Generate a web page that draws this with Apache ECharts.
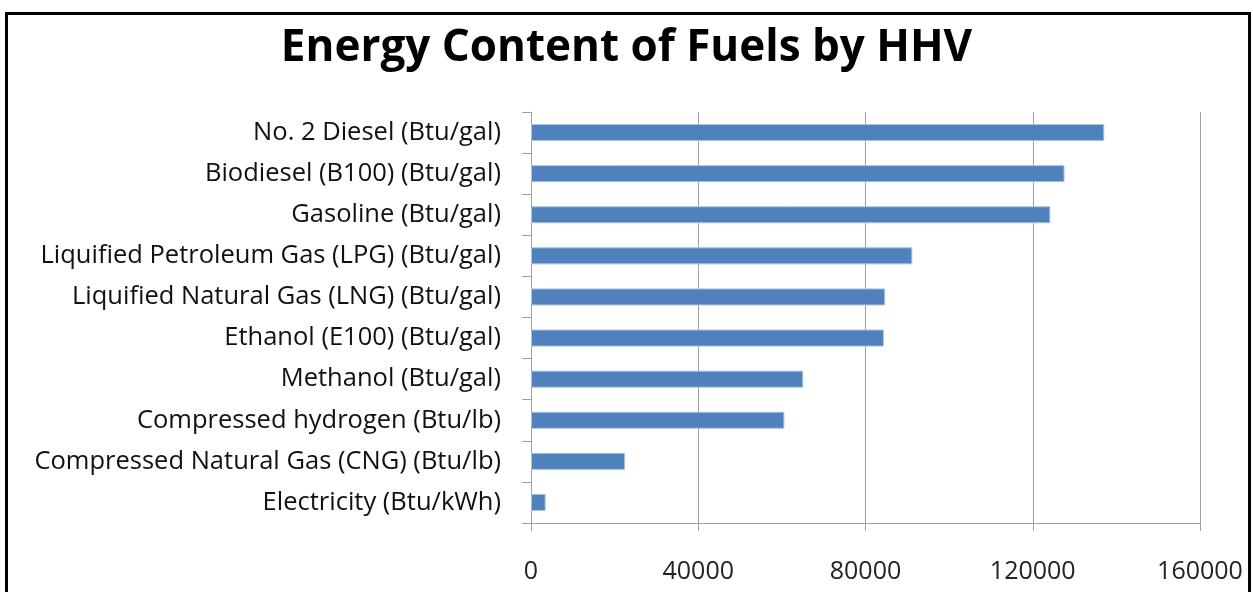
<!DOCTYPE html>
<html>
<head>
    <meta charset="utf-8">
    <title>ECharts</title>
    <script src="https://cdn.jsdelivr.net/npm/echarts@6/dist/echarts.min.js"></script>
    <style>
        body { margin: 0; background: #fff; }
    </style>
</head>
<body>
<div id="main" style="width: 1253px;height:592px;"></div>
<script type="text/javascript">
    // categories listed top to bottom
    var fuels = [
        'No. 2 Diesel (Btu/gal)',
        'Biodiesel (B100) (Btu/gal)',
        'Gasoline (Btu/gal)',
        'Liquified Petroleum Gas (LPG) (Btu/gal)',
        'Liquified Natural Gas (LNG) (Btu/gal)',
        'Ethanol (E100) (Btu/gal)',
        'Methanol (Btu/gal)',
        'Compressed hydrogen (Btu/lb)',
        'Compressed Natural Gas (CNG) (Btu/lb)',
        'Electricity (Btu/kWh)'
    ];
    var hhv = [137100, 127600, 124200, 91200, 84700, 84400, 65100, 60600, 22500, 3500];
    var xTicks = [0, 40000, 80000, 120000, 160000];

    var myChart = echarts.init(document.getElementById('main'));

    var option = {
        animation: false,
        title: {
            text: 'Energy Content of Fuels by HHV',
            left: 'center',
            top: 21,
            textStyle: {
                fontFamily: 'Open Sans, sans-serif',
                fontWeight: 'bold',
                fontSize: 44,
                color: '#000'
            }
        },
        graphic: [{
            type: 'rect',
            shape: { x: 6.5, y: 13.5, width: 1243, height: 620 },
            style: { fill: 'none', stroke: '#000', lineWidth: 3 }
        }],
        grid: {
            left: 531,
            right: 53,
            top: 112,
            bottom: 69
        },
        xAxis: {
            type: 'value',
            min: xTicks[0],
            max: xTicks[xTicks.length - 1],
            interval: 40000,
            axisLine: { show: true, lineStyle: { color: '#a0a0a0', width: 1 } },
            axisTick: { show: true, length: 8, inside: false, lineStyle: { color: '#a0a0a0' } },
            splitLine: { show: true, lineStyle: { color: '#a0a0a0', width: 1 } },
            axisLabel: {
                margin: 36,
                fontFamily: 'Open Sans, sans-serif',
                fontSize: 25,
                color: '#222',
                formatter: function (v) { return String(v); }
            }
        },
        yAxis: {
            type: 'category',
            data: fuels,
            inverse: true,
            axisLine: { show: true, lineStyle: { color: '#a0a0a0', width: 1 } },
            axisTick: { show: true, length: 9, lineStyle: { color: '#a0a0a0' } },
            axisLabel: {
                margin: 30,
                fontFamily: 'Open Sans, sans-serif',
                fontSize: 25.5,
                color: '#111'
            }
        },
        series: [{
            type: 'bar',
            data: hhv,
            barWidth: 17,
            itemStyle: {
                color: '#4f81bd',
                borderColor: '#a9c1e0',
                borderWidth: 1
            }
        }]
    };

    myChart.setOption(option);
</script>
</body>
</html>
